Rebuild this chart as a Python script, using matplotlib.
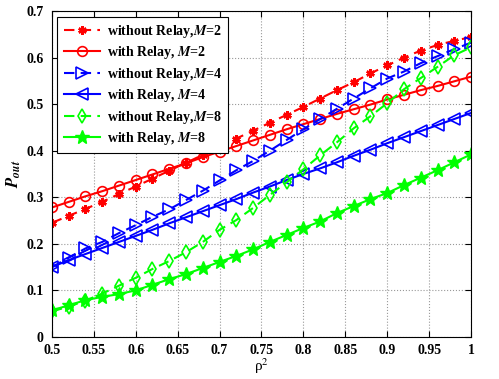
import numpy as np
import matplotlib
matplotlib.use('Agg')
import matplotlib.pyplot as plt

plt.rcParams['font.family'] = ['Liberation Serif', 'DejaVu Serif']
plt.rcParams['mathtext.fontset'] = 'stix'

# rho^2 values
rho2 = [0.50, 0.52, 0.54, 0.56, 0.58, 0.60, 0.62, 0.64, 0.66, 0.68, 0.70, 0.72, 0.74,
        0.76, 0.78, 0.80, 0.82, 0.84, 0.86, 0.88, 0.90, 0.92, 0.94, 0.96, 0.98, 1.00]

no_relay_m2 = [0.245, 0.260, 0.275, 0.290, 0.307, 0.323, 0.340, 0.357, 0.374, 0.391, 0.408,
               0.426, 0.443, 0.460, 0.477, 0.494, 0.512, 0.530, 0.547, 0.566, 0.583, 0.600,
               0.615, 0.627, 0.636, 0.644]
relay_m2 = [0.278, 0.290, 0.302, 0.313, 0.325, 0.337, 0.349, 0.361, 0.373, 0.386, 0.398,
            0.410, 0.422, 0.434, 0.446, 0.457, 0.468, 0.479, 0.489, 0.499, 0.510, 0.520,
            0.530, 0.539, 0.549, 0.559]
no_relay_m4 = [0.150, 0.170, 0.190, 0.204, 0.223, 0.240, 0.258, 0.274, 0.294, 0.314, 0.336,
               0.358, 0.378, 0.400, 0.423, 0.446, 0.468, 0.490, 0.512, 0.534, 0.555, 0.570,
               0.588, 0.603, 0.618, 0.632]
relay_m4 = [0.150, 0.165, 0.178, 0.191, 0.204, 0.217, 0.230, 0.244, 0.257, 0.270, 0.283,
            0.296, 0.310, 0.323, 0.337, 0.350, 0.362, 0.375, 0.389, 0.402, 0.416, 0.429,
            0.442, 0.455, 0.468, 0.481]
no_relay_m8 = [0.055, 0.065, 0.078, 0.093, 0.110, 0.127, 0.146, 0.163, 0.182, 0.204, 0.230,
               0.251, 0.277, 0.305, 0.332, 0.360, 0.390, 0.418, 0.448, 0.474, 0.502, 0.532,
               0.556, 0.580, 0.605, 0.622]
relay_m8 = [0.057, 0.068, 0.079, 0.086, 0.092, 0.100, 0.112, 0.124, 0.135, 0.148, 0.161,
            0.174, 0.188, 0.204, 0.219, 0.234, 0.248, 0.266, 0.281, 0.296, 0.309, 0.326,
            0.342, 0.358, 0.375, 0.392]

labels = [r'without Relay,$\mathbfit{M}$=2', r'with Relay, $\mathbfit{M}$=2',
          r'without Relay,$\mathbfit{M}$=4', r'with Relay, $\mathbfit{M}$=4',
          r'without Relay,$\mathbfit{M}$=8', r'with Relay, $\mathbfit{M}$=8']

fig = plt.figure(figsize=(4.99, 3.79), dpi=100)
ax = fig.add_axes([0.104, 0.111, 0.84, 0.86])

lw = 1.5
dash = (0, (5, 3))
ax.plot(rho2, no_relay_m2, color='red', linestyle=dash, lw=lw, marker=(6, 2, 0),
        ms=6, mew=1.8, label=labels[0])
ax.plot(rho2, relay_m2, color='red', linestyle='-', lw=lw, marker='o', ms=7,
        mfc='none', mew=1.2, label=labels[1])
ax.plot(rho2, no_relay_m4, color='blue', linestyle=dash, lw=lw, marker='>', ms=8,
        mfc='none', mew=1.2, label=labels[2])
ax.plot(rho2, relay_m4, color='blue', linestyle='-', lw=lw, marker='<', ms=8,
        mfc='none', mew=1.2, label=labels[3])
ax.plot(rho2, no_relay_m8, color='#00ff00', linestyle=dash, lw=lw, marker='d', ms=7,
        mfc='none', mew=1.2, label=labels[4])
ax.plot(rho2, relay_m8, color='#00ff00', linestyle='-', lw=lw, marker='*', ms=10,
        mew=1.0, label=labels[5])

ax.set_xlim(0.5, 1.0)
ax.set_ylim(0, 0.7)
ax.set_xticks(np.arange(0.5, 1.001, 0.05))
ax.set_xticklabels(['0.5', '0.55', '0.6', '0.65', '0.7', '0.75', '0.8', '0.85', '0.9', '0.95', '1'])
ax.set_yticks(np.arange(0, 0.701, 0.1))
ax.set_yticklabels(['0', '0.1', '0.2', '0.3', '0.4', '0.5', '0.6', '0.7'])
for t in ax.get_xticklabels() + ax.get_yticklabels():
    t.set_fontweight('bold')
    t.set_fontsize(10)
ax.tick_params(direction='in', top=True, right=True, length=4)
ax.tick_params(axis='x', pad=5)
ax.tick_params(axis='y', pad=6)
ax.grid(True, linestyle=':', color='#999999', lw=0.8)

ax.set_xlabel(r'ρ$^2$', fontsize=11, labelpad=0)
ax.set_ylabel(r'$\mathbfit{P}_{\mathbfit{out}}$', fontsize=12, labelpad=2)

leg = ax.legend(loc='upper left', prop={'weight': 'bold', 'size': 10}, fancybox=False,
                edgecolor='black', framealpha=1, handlelength=2.6, borderaxespad=0.4,
                labelspacing=0.32, borderpad=0.45, handletextpad=0.5)
leg.get_frame().set_linewidth(0.8)

fig.savefig('out.png', dpi=100)
